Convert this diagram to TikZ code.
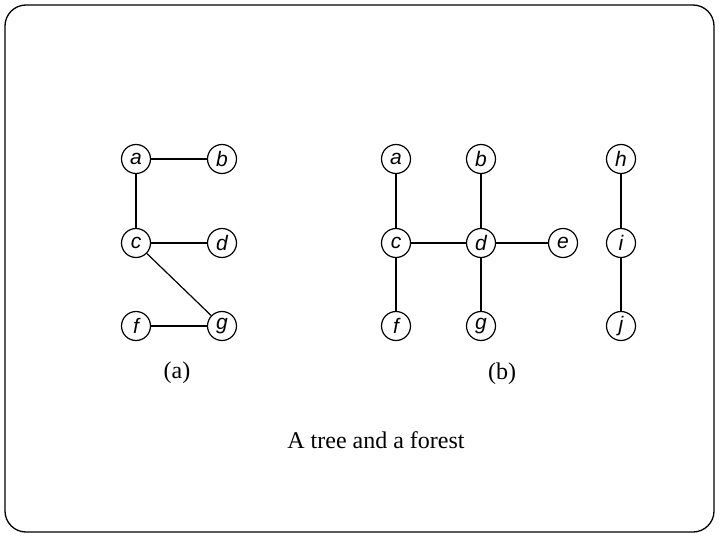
\documentclass[tikz,border=0pt]{standalone}
\usepackage{fontspec}
\setmainfont{Liberation Serif}
\newfontfamily\helv{Liberation Sans}
\begin{document}
\begin{tikzpicture}[x=1pt,y=-1pt,
  vtx/.style={circle,draw,line width=1.2pt,minimum size=29pt,inner sep=0pt,font=\helv\itshape\fontsize{21}{21}\selectfont},
  edge/.style={line width=1.2pt},
  lbl/.style={font=\fontsize{24}{24}\selectfont}]
\useasboundingbox (0,0) rectangle (720,540);
\draw[line width=1.3pt,rounded corners=21pt] (5,5) rectangle (714,532);
% (a)
\node[vtx] (aa) at (136,159) {a};
\node[vtx] (ab) at (222,159) {b};
\node[vtx] (ac) at (136,243) {c};
\node[vtx] (ad) at (222,243) {d};
\node[vtx] (af) at (136,326) {f};
\node[vtx] (ag) at (222,326) {g};
\draw[edge] (aa) -- (ab);
\draw[edge] (aa) -- (ac);
\draw[edge] (ac) -- (ad);
\draw[edge] (ac) -- (ag);
\draw[edge] (af) -- (ag);
% (b)
\node[vtx] (ba) at (396,159) {a};
\node[vtx] (bb) at (481,159) {b};
\node[vtx] (bh) at (621,159) {h};
\node[vtx] (bc) at (396,243) {c};
\node[vtx] (bd) at (481,243) {d};
\node[vtx] (be) at (563,243) {e};
\node[vtx] (bi) at (621,243) {i};
\node[vtx] (bf) at (396,326) {f};
\node[vtx] (bg) at (481,326) {g};
\node[vtx] (bj) at (621,326) {j};
\draw[edge] (ba) -- (bc);
\draw[edge] (bc) -- (bf);
\draw[edge] (bc) -- (bd);
\draw[edge] (bb) -- (bd);
\draw[edge] (bd) -- (bg);
\draw[edge] (bd) -- (be);
\draw[edge] (bh) -- (bi);
\draw[edge] (bi) -- (bj);
% labels
\node[lbl] (la) at (177,373) {(a)};
\node[lbl] (lb) at (502,374) {(b)};
\node[lbl] (cap) at (376,440) {A tree and a forest};
\end{tikzpicture}
\end{document}
